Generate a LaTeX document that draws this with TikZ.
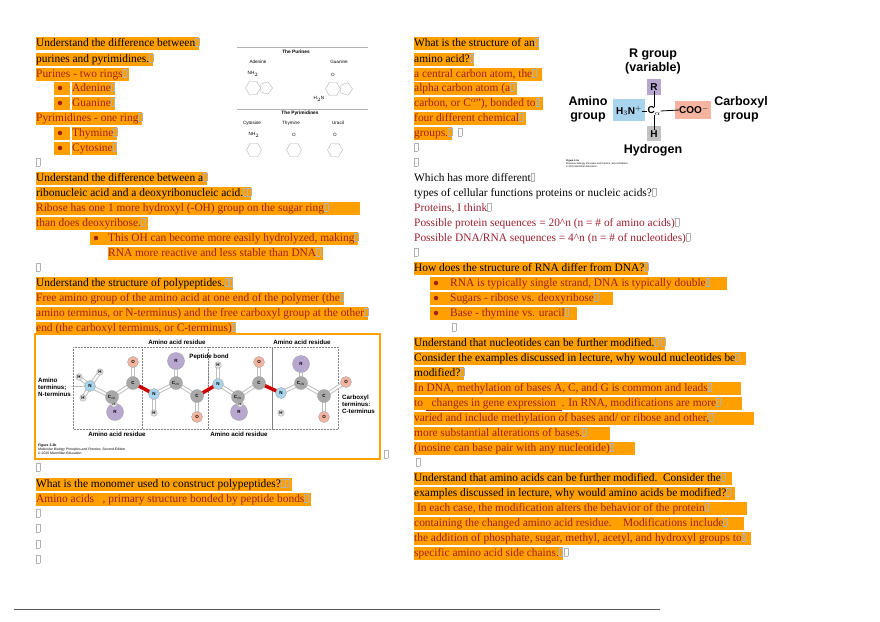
\documentclass[tikz,border=0pt]{standalone}
\usepackage{fontspec}
\setmainfont{Liberation Serif}
\newfontfamily\figsans{Liberation Sans}
\usetikzlibrary{shapes.geometric}
\definecolor{hl}{HTML}{FFA000}
\definecolor{ans}{HTML}{A0201A}
\definecolor{ans2}{HTML}{9A2030}
\definecolor{nblue}{HTML}{A8D4EE}
\definecolor{opink}{HTML}{F4B4A0}
\definecolor{rpurp}{HTML}{B8A8D0}
\definecolor{cgray}{HTML}{A8A8A8}
\newcommand\bx{{\color{gray!60}\setlength\fboxsep{0pt}\setlength\fboxrule{0.4pt}\fbox{\phantom{\rule{3.2pt}{7.5pt}}}}}
\newcommand\wb[2]{\makebox[#1][l]{#2}}
\tikzset{
 txt/.style={anchor=west,inner sep=0pt,text height=9.5pt,text depth=3.5pt,font=\fontsize{11.4}{13}\selectfont},
 hq/.style={txt,fill=hl,text=black},
 ha/.style={txt,fill=hl,text=ans},
 pq/.style={txt,text=black},
 pa/.style={txt,text=ans2},
 bul/.style={circle,fill=ans,inner sep=0pt,minimum size=4.5pt},
 bulbg/.style={fill=hl,minimum width=16pt,minimum height=13pt,inner sep=0pt},
 atom/.style={circle,draw=gray!70,line width=0.4pt,inner sep=0pt,minimum size=#1,font=\figsans\bfseries\fontsize{4.5}{5}\selectfont},
 fl/.style={font=\figsans\bfseries\fontsize{6.2}{7}\selectfont,inner sep=0pt,align=left},
 aab/.style={font=\figsans\bfseries\fontsize{12.5}{14}\selectfont,inner sep=0pt,align=center},
 aas/.style={font=\figsans\bfseries\fontsize{10}{11}\selectfont,inner sep=0pt},
 ring/.style={draw=gray!60,line width=0.4pt,regular polygon,inner sep=0pt,minimum size=#1},
 small/.style={font=\figsans\fontsize{4.6}{5}\selectfont,inner sep=0pt}
}
\begin{document}
\begin{tikzpicture}[x=1pt,y=-1pt]
\useasboundingbox (0,0) rectangle (880,621);
\fill[white] (0,0) rectangle (880,621);
% ---------- left column ----------
\node[hq] (l1) at (36,43) {Understand the difference between\bx};
\node[hq] (l2) at (36,59) {purines and pyrimidines.\bx};
\node[ha] (l3) at (36,74) {Purines - two rings\bx\ \ };
\foreach \y in {88,103,133,148} {\node[bulbg] at (62,\y) {}; \node[bul] at (60,\y) {};}
\node[ha] (l4) at (72,88) {Adenine\bx};
\node[ha] (l5) at (72,103) {Guanine\bx};
\node[ha] (l6) at (36,118) {Pyrimidines - one ring\bx\ };
\node[ha] (l7) at (72,133) {Thymine\bx};
\node[ha] (l8) at (72,148) {Cytosine\bx};
\node[pq] (l9) at (36,163) {\bx};
\node[hq] (l10) at (36,178) {Understand the difference between a\bx};
\node[hq] (l11) at (36,193) {ribonucleic acid and a deoxyribonucleic acid.\bx\bx};
\node[ha] (l12) at (36,208) {\wb{324pt}{Ribose has one 1 more hydroxyl (-OH) group on the sugar ring\bx}};
\node[ha] (l13) at (36,223) {than does deoxyribose.\bx\ \ };
\node[ha] (l14) at (90,238) {\wb{268pt}{\hspace*{18pt}This OH can become more easily hydrolyzed, making\bx}};
\node[bul] at (96,238) {};
\node[ha] (l15) at (108,253) {RNA more reactive and less stable than DNA\bx\ \ };
\node[pq] (l16) at (36,268) {\bx};
\node[hq] (l17) at (36,283) {Understand the structure of polypeptides.\bx\bx};
\node[ha] (l18) at (36,298) {Free amino group of the amino acid at one end of the polymer (the\bx};
\node[ha] (l19) at (36,313) {amino terminus, or N-terminus) and the free carboxyl group at the other\bx};
\node[ha] (l20) at (36,328) {end (the carboxyl terminus, or C-terminus)\bx};
% peptide figure
\draw[hl,line width=1.3pt] (35,334) rectangle (380,459);
\node[pq] at (384,455) {\bx};
\foreach \a/\b in {73/142,142/208,208/272,272/338}
  \draw[gray,densely dotted,line width=0.5pt] (\a,347) rectangle (\b,429);
\node[fl] (ar1) at (177,342) {Amino acid residue};
\node[fl] (ar2) at (302,342) {Amino acid residue};
\node[fl] (ar3) at (117,434) {Amino acid residue};
\node[fl] (ar4) at (239,434) {Amino acid residue};
\node[fl] (pb) at (209,357) {Peptide bond};
\node[fl,anchor=west] (nt) at (38,387) {Amino\\terminus;\\N-terminus};
\node[fl,anchor=west] (ct) at (342,404) {Carboxyl\\terminus:\\C-terminus};
\node[anchor=west,inner sep=0pt,align=left,font=\figsans\fontsize{3.4}{4}\selectfont] (cap) at (38,449) {\textbf{Figure 3-2b}\\\textit{Molecular Biology Principles and Practice, Second Edition}\\\textcopyright{} 2015 Macmillan Education};
\draw[gray] (nt.east) -- (86,386);
\draw[gray] (pb.south) -- (208,388);
\foreach \x/\y/\u/\v in {90/386/112/397, 112/397/133/383, 133/383/133/362, 154/394/176/383, 176/383/197/396, 197/396/197/417, 218/384/238/397, 238/397/259/383, 259/383/259/362, 281/393/301/383, 301/383/324/396, 324/396/324/417, 324/396/346/382, 176/383/176/361, 301/383/301/364, 154/394/154/413, 218/384/218/365, 90/386/79/377, 90/386/100/372, 90/386/83/398}
  {\draw[gray!50,line width=4pt] (\x,\y) -- (\u,\v); \draw[white,line width=2pt] (\x,\y) -- (\u,\v);}
\foreach \x/\y/\u/\v in {133/383/154/394, 197/396/218/384, 259/383/281/393}
  \draw[red!80!black,line width=3.5pt] (\x,\y) -- (\u,\v);
\foreach \x/\y in {115/412,176/361,239/412,301/364} \node[atom=17pt,fill=rpurp] at (\x,\y) {R};
\foreach \x/\y in {133/362,197/417,259/362,324/417,346/382} \node[atom=11pt,fill=opink] at (\x,\y) {O};
\foreach \x/\y in {79/377,100/372,83/398,154/413,218/365,281/413,114/404,240/404} \node[atom=6.5pt,fill=gray!20] at (\x,\y) {H};
\foreach \x/\y in {90/386,154/394,218/384,281/393} \node[atom=11pt,fill=nblue] at (\x,\y) {N};
\foreach \x/\y in {133/383,197/396,259/383,324/396} \node[atom=13pt,fill=cgray] at (\x,\y) {C};
\foreach \x/\y in {112/397,176/383,238/397,301/383} \node[atom=13pt,fill=cgray] at (\x,\y) {C$_\alpha$};
\node[pq] (l21) at (36,468) {\bx};
\node[hq] (l22) at (36,484) {What is the monomer used to construct polypeptides?\bx\bx\ \ };
\node[ha] (l23) at (36,499) {Amino acids \ \ , primary structure bonded by peptide bonds\bx\ \ };
\node[pq] at (36,514) {\bx};
\node[pq] at (36,529) {\bx};
\node[pq] at (36,545) {\bx};
\node[pq] at (36,560) {\bx};
% purine figure
\draw[gray!60,line width=0.4pt] (237,47) -- (368,47);
\draw[gray!60,line width=0.4pt] (237,109) -- (368,109);
\node[small,font=\figsans\bfseries\fontsize{4.8}{5}\selectfont] (tp) at (296,52) {The Purines};
\node[small] (ad) at (258,62) {Adenine};
\node[small] (gu) at (339,62) {Guanine};
\node[small,font=\figsans\bfseries\fontsize{4.8}{5}\selectfont] (ty) at (300,113) {The Pyrimidines};
\node[small] (cy) at (252,123) {Cytosine};
\node[small] (th) at (291,123) {Thymine};
\node[small] (ur) at (338,123) {Uracil};
\node[ring=15pt,regular polygon sides=6] (a6) at (253,88) {};
\node[ring=13pt,regular polygon sides=5,rotate=-90] (a5) at (266,88) {};
\node[small] at (253,74) {NH$_2$};
\node[ring=15pt,regular polygon sides=6] (g6) at (333,89) {};
\node[ring=13pt,regular polygon sides=5,rotate=-90] (g5) at (346,89) {};
\node[small] at (333,75) {O};
\node[small] at (319,99) {H$_2$N};
\node[ring=15pt,regular polygon sides=6] (c6) at (254,150) {};
\node[small] at (254,135) {NH$_2$};
\node[ring=15pt,regular polygon sides=6] (t6) at (294,150) {};
\node[small] at (294,135) {O};
\node[ring=15pt,regular polygon sides=6] (u6) at (335,150) {};
\node[small] at (335,135) {O};
% ---------- right column ----------
\node[hq] (r1) at (414,43) {What is the structure of an\bx};
\node[hq] (r2) at (414,59) {amino acid?\bx};
\node[ha] (r3) at (414,74) {a central carbon atom, the\bx\ \ \ };
\node[ha] (r4) at (414,88) {alpha carbon atom (a\bx\ \ };
\node[ha] (r5) at (414,103) {carbon, or C$^{\alpha}$\kern-1pt\textquotedblright), bonded to\bx\ \ };
\node[ha] (r6) at (414,118) {four different chemical\bx\ \ };
\node[ha] (r7) at (414,133) {groups.\bx\ };
\node[pq] at (458,133) {\bx};
\node[pq] at (414,148) {\bx};
\node[pq] at (414,163) {\bx};
\node[pq] (r10) at (414,178) {Which has more different\bx};
\node[pq] (r11) at (414,193) {types of cellular functions proteins or nucleic acids?\bx};
\node[pa] (r12) at (414,208) {Proteins, I think\bx};
\node[pa] (r13) at (414,223) {Possible protein sequences = 20\^{}n (n = \# of amino acids)\bx};
\node[pa] (r14) at (414,238) {Possible DNA/RNA sequences = 4\^{}n (n = \# of nucleotides)\bx};
\node[pq] at (414,253) {\bx};
\node[hq] (r16) at (414,268) {How does the structure of RNA differ from DNA?\bx};
\node[ha] (r17) at (430,283) {\wb{297pt}{\hspace*{20pt}RNA is typically single strand, DNA is typically double\bx}};
\node[ha] (r18) at (430,298) {\wb{183pt}{\hspace*{20pt}Sugars - ribose vs. deoxyribose\bx}};
\node[ha] (r19) at (430,313) {\wb{147pt}{\hspace*{20pt}Base - thymine vs. uracil\bx}};
\foreach \y in {283,298,313} \node[bul] at (436,\y) {};
\node[pq] at (452,328) {\bx};
\node[hq] (r21) at (414,343) {Understand that nucleotides can be further modified.\bx\ \bx};
\node[hq] (r22) at (414,358) {\wb{332pt}{Consider the examples discussed in lecture, why would nucleotides be\bx}};
\node[hq] (r23) at (414,373) {modified?\bx};
\node[ha] (r24) at (414,388) {\wb{327pt}{In DNA, methylation of bases A, C, and G is common and leads\bx}};
\node[ha] (r25) at (414,403) {\wb{328pt}{to \underline{\ \ changes in gene expression\ \ }. In RNA, modifications are more\bx}};
\node[ha] (r26) at (414,418) {\wb{340pt}{varied and include methylation of bases and/ or ribose and other,\bx}};
\node[ha] (r27) at (414,433) {\wb{196pt}{more substantial alterations of bases.\bx}};
\node[ha] (r28) at (414,448) {\wb{221pt}{(inosine can base pair with any nucleotide)\bx}};
\node[pq] at (416,463) {\bx};
\node[hq] (r30) at (414,478) {\wb{318pt}{Understand that amino acids can be further modified.\ \ Consider the\bx}};
\node[hq] (r31) at (414,493) {\wb{321pt}{examples discussed in lecture, why would amino acids be modified?\bx}};
\node[ha] (r32) at (414,508) {\wb{333pt}{\ In each case, the modification alters the behavior of the protein\bx}};
\node[ha] (r33) at (414,523) {\wb{330pt}{containing the changed amino acid residue.\ \ \ \ Modifications include\bx}};
\node[ha] (r34) at (414,538) {\wb{337pt}{the addition of phosphate, sugar, methyl, acetyl, and hydroxyl groups to\bx}};
\node[ha] (r35) at (414,553) {specific amino acid side chains.\bx};
\node[pq] at (564,553) {\bx};
% amino acid figure
\node[aab] (rg) at (653,61) {R group\\(variable)};
\fill[rpurp] (647,79) rectangle (661,95);
\node[aas] (rr) at (654,87) {R};
\fill[nblue] (613,99) rectangle (645,121);
\fill[opink] (675,101) rectangle (711,119);
\fill[cgray!70] (647,126) rectangle (661,141);
\node[aas] (h3n) at (629,111) {H$_3$N$^{\mathbf{+}}$};
\node[aas] (ca) at (654,111) {C$_\alpha$};
\node[aas] (coo) at (694,110) {COO$^{\mathbf{-}}$};
\node[aas] (hh) at (654,134) {H};
\draw[line width=0.8pt] (rr.south) -- (ca.north);
\draw[line width=0.8pt] (ca.south) -- (hh.north);
\draw[line width=0.8pt] (h3n.east) -- (ca.west);
\draw[line width=0.8pt] (ca.east) -- (coo.west);
\node[aab] (hy) at (653,150) {Hydrogen};
\node[aab] (ag) at (588,109) {Amino\\group};
\node[aab] (cg) at (741,109) {Carboxyl\\group};
\node[anchor=west,inner sep=0pt,align=left,font=\figsans\fontsize{2.4}{3}\selectfont] (cap2) at (566,164) {\textbf{Figure 3-1a}\\Molecular Biology Principles and Practice, Second Edition\\\textcopyright{} 2015 Macmillan Education};
\draw[gray!70!black,line width=0.5pt] (14,609) -- (660,609);
\end{tikzpicture}
\end{document}
